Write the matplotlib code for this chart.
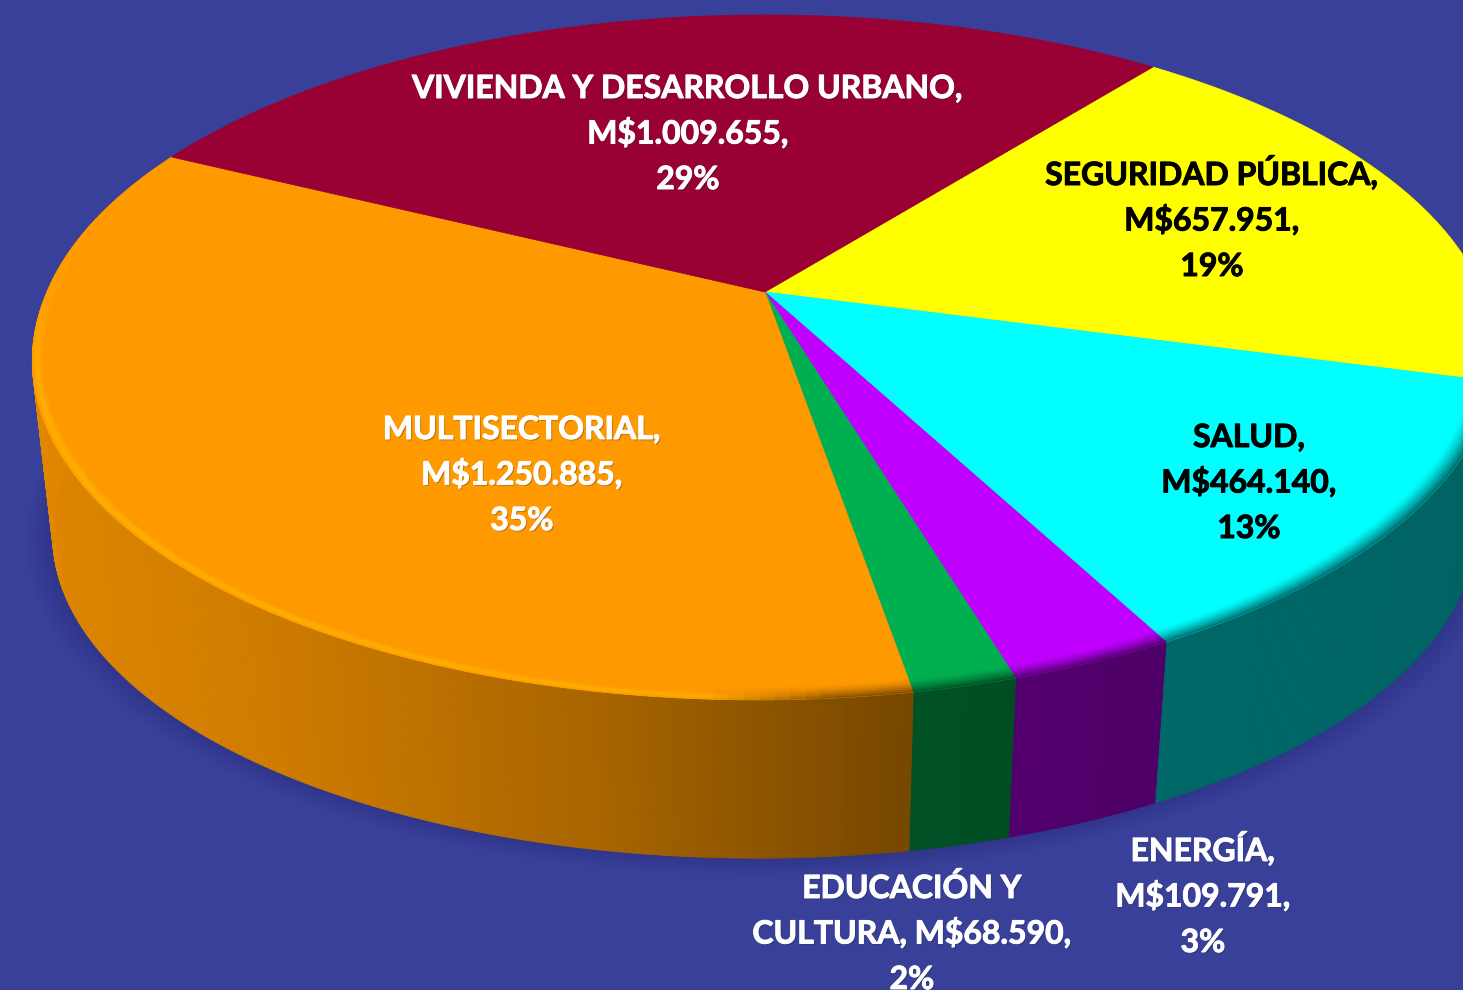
import numpy as np
import matplotlib
matplotlib.use('Agg')
import matplotlib.pyplot as plt
import matplotlib.patheffects as pe
from matplotlib.colors import to_rgb

# clockwise from the top edge of SEGURIDAD PUBLICA
sectors = ['SEGURIDAD PÚBLICA', 'SALUD', 'ENERGÍA', 'EDUCACIÓN Y CULTURA', 'MULTISECTORIAL',
           'VIVIENDA Y DESARROLLO URBANO']
values = [657951, 464140, 109791, 68590, 1250885, 1009655]
value_labels = ['M$657.951', 'M$464.140', 'M$109.791', 'M$68.590', 'M$1.250.885', 'M$1.009.655']
percents = ['19%', '13%', '3%', '2%', '35%', '29%']
colors = ['#FFFF00', '#00FFFF', '#C000FF', '#00B050', '#FF9900', '#990033']
text_colors = ['black', 'black', 'white', 'white', 'white', 'white']

BG = '#384099'
START = 38.4
KP = 0.191  # perspective of the tilted disc
LEAN = 6.0  # near side of the disc sits a little to the left


def project(theta, r=1.0, cx=765.0, cy=292.0, a=718.0, b=330.0):
    # disc position to screen pixels, theta clockwise from the far side
    t = np.radians(theta)
    x = r * np.sin(t)
    y = r * np.cos(t)
    w = 1 + KP * y
    return cx + (a * x + LEAN * np.minimum(y, 0)) / w, cy - b * y / w


def project_low(theta, r=1.0):
    return project(theta, r, cx=765.0, cy=470.0, a=698.0, b=314.0)


def side_shade(sx):
    return np.interp(sx, [40, 300, 600, 900, 1100, 1463], [0.88, 0.80, 0.66, 0.47, 0.41, 0.39])


fig = plt.figure(figsize=(14.63, 9.90), dpi=100, facecolor=BG)
ax = fig.add_axes([0, 0, 1, 1])
ax.set_xlim(0, 1463)
ax.set_ylim(990, 0)
ax.axis('off')

# soft shadow on the background
all_t = np.linspace(0, 360, 361)
for grow, alpha in zip([1.035, 1.028, 1.021, 1.014, 1.007], [0.03, 0.04, 0.05, 0.06, 0.07]):
    sx, sy = project_low(all_t, grow)
    ax.fill(sx, sy, color='#20205f', alpha=alpha, lw=0, zorder=1)

spans = 360 * np.array(values) / sum(values)
edges = START + np.concatenate([[0], np.cumsum(spans)])

# outer wall, narrow strips shaded across the picture
for i, col in enumerate(colors):
    base = np.array(to_rgb(col))
    t0, t1 = edges[i], edges[i + 1]
    lo = max(t0, 60)
    hi = min(t1, 300)
    if hi <= lo:
        continue
    ts = np.arange(lo, hi + 0.5, 0.5)
    ts[-1] = hi
    for a, b in zip(ts[:-1], ts[1:]):
        x1, y1 = project(np.array([a, b]))
        x2, y2 = project_low(np.array([b, a]))
        xs = np.r_[x1, x2]
        ys = np.r_[y1, y2]
        c = base * side_shade(xs.mean())
        ax.fill(xs, ys, color=c, lw=0.6, zorder=2)

# top face
for i, col in enumerate(colors):
    ts = np.linspace(edges[i], edges[i + 1], 200)
    rx, ry = project(ts)
    cx0, cy0 = project(0.0, 0.0)
    ax.fill(np.r_[cx0, rx], np.r_[cy0, ry], color=col, lw=0.5, zorder=3)

# bevel along the front rim: light on the left, dark going right
radii = np.linspace(1.0, 0.972, 9)
for i, col in enumerate(colors):
    base = np.array(to_rgb(col))
    lo = max(edges[i], 95)
    hi = min(edges[i + 1], 285)
    if hi <= lo:
        continue
    ts = np.arange(lo, hi + 1, 1.0)
    ts[-1] = hi
    for a, b in zip(ts[:-1], ts[1:]):
        fade = np.interp((a + b) / 2, [250, 285], [1.0, 0.0])
        for j in range(len(radii) - 1):
            frac = (j + 0.5) / (len(radii) - 1)
            x1, y1 = project(np.array([a, b]), radii[j])
            x2, y2 = project(np.array([b, a]), radii[j + 1])
            xs = np.r_[x1, x2]
            ys = np.r_[y1, y2]
            mx = xs.mean()
            light = np.interp(mx, [40, 700, 830], [1.0, 0.8, 0.0]) * fade
            dark = np.interp(mx, [700, 830], [0.0, 1.0])
            bump = np.sin(np.pi * np.clip(frac * 2.0, 0, 1))
            c = base + (np.array([1.0, 0.69, 0.0]) - base) * light * bump
            c = c + (base * side_shade(mx) - c) * dark * (1 - frac) ** 1.4
            ax.fill(xs, ys, color=np.clip(c, 0, 1), lw=0.3, zorder=4)

labels = [
    [f'{sectors[0]},', f'{value_labels[0]},', percents[0]],
    [f'{sectors[1]},', f'{value_labels[1]},', percents[1]],
    [f'{sectors[2]},', f'{value_labels[2]},', percents[2]],
    ['EDUCACIÓN Y', f'CULTURA, {value_labels[3]},', percents[3]],
    [f'{sectors[4]},', f'{value_labels[4]},', percents[4]],
    [f'{sectors[5]},', f'{value_labels[5]},', percents[5]],
]
# centre x and first baseline of each label
label_pos = [(1212, 185), (1249, 447), (1203, 861), (912, 898), (522, 439), (688, 98)]

for lab, pos, tc in zip(labels, label_pos, text_colors):
    for k, line in enumerate(lab):
        t = ax.text(pos[0], pos[1] + 45.5 * k, line, color=tc, family=['Lato', 'DejaVu Sans'],
                    fontweight='bold', fontsize=23, ha='center', va='baseline', zorder=6)
        # a thin stroke brings the weight closer to the reference
        effects = [pe.withStroke(linewidth=0.7, foreground=tc)]
        if tc == 'white':
            effects.insert(0, pe.SimplePatchShadow(offset=(1, -1), shadow_rgbFace='#202040', alpha=0.3))
        t.set_path_effects(effects)

plt.savefig('out.png', dpi=100, facecolor=BG)
plt.close()
